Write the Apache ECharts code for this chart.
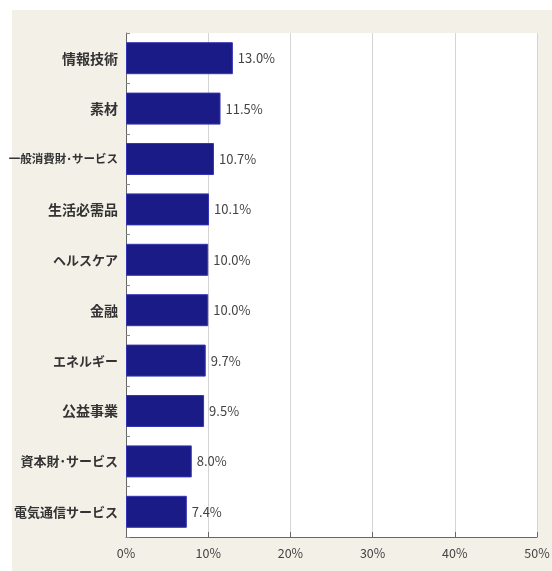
<!DOCTYPE html>
<html><head><meta charset="utf-8">
<script src="https://cdn.jsdelivr.net/npm/echarts@6/dist/echarts.min.js"></script>
<style>html,body{margin:0;padding:0;background:#fff;}#c{width:552px;height:571px;}</style>
</head><body><div id="c"></div>
<script>
var categories = ['情報技術','素材','一般消費財･サービス','生活必需品','ヘルスケア','金融','エネルギー','公益事業','資本財･サービス','電気通信サービス'];
var values = [13.0, 11.5, 10.7, 10.1, 10.0, 10.0, 9.7, 9.5, 8.0, 7.4];
var xTicks = [0, 10, 20, 30, 40, 50];

var catData = categories.map(function (c) {
  var fs = c.length >= 10 ? 11.5 : (/^[\u4e00-\u9fff]+$/.test(c) ? 14 : 13);
  return {value: c, textStyle: {fontSize: fs}};
});

var chart = echarts.init(document.getElementById('c'));
chart.setOption({
  animation: false,
  backgroundColor: '#ffffff',
  graphic: [{
    type: 'rect', z: -10, silent: true,
    shape: {x: 12, y: 10, width: 540, height: 561},
    style: {fill: '#f3f0e7'}
  }],
  grid: {left: 126, right: 15, top: 33, bottom: 34, show: true, backgroundColor: '#ffffff', borderWidth: 0,
    containLabel: false, outerBoundsMode: 'none'},
  xAxis: {
    type: 'value', min: xTicks[0], max: xTicks[xTicks.length - 1], interval: 10,
    axisLine: {show: true, lineStyle: {color: '#666', width: 1}},
    axisTick: {show: true, inside: true, length: 5, lineStyle: {color: '#666'}},
    splitLine: {show: true, lineStyle: {color: '#d4d4d4', width: 1}},
    axisLabel: {formatter: '{value}%', color: '#444', fontSize: 12.5, margin: 10, fontFamily: 'Noto Sans CJK JP'}
  },
  yAxis: {
    type: 'category', data: catData, inverse: true,
    axisLine: {show: true, lineStyle: {color: '#666', width: 1}},
    axisTick: {show: true, inside: true, length: 4, lineStyle: {color: '#888'}},
    axisLabel: {color: '#333', fontSize: 13, margin: 8, fontWeight: 'bold', fontFamily: 'Noto Sans CJK JP'}
  },
  series: [{
    type: 'bar', data: values, barWidth: 32,
    itemStyle: {color: '#1b1b88', borderColor: '#3434b4', borderWidth: 1},
    label: {show: true, position: 'right', distance: 5, color: '#444', fontSize: 13,
      fontFamily: 'Noto Sans CJK JP',
      formatter: function (p) { return p.value.toFixed(1) + '%'; }}
  }]
});
</script></body></html>
